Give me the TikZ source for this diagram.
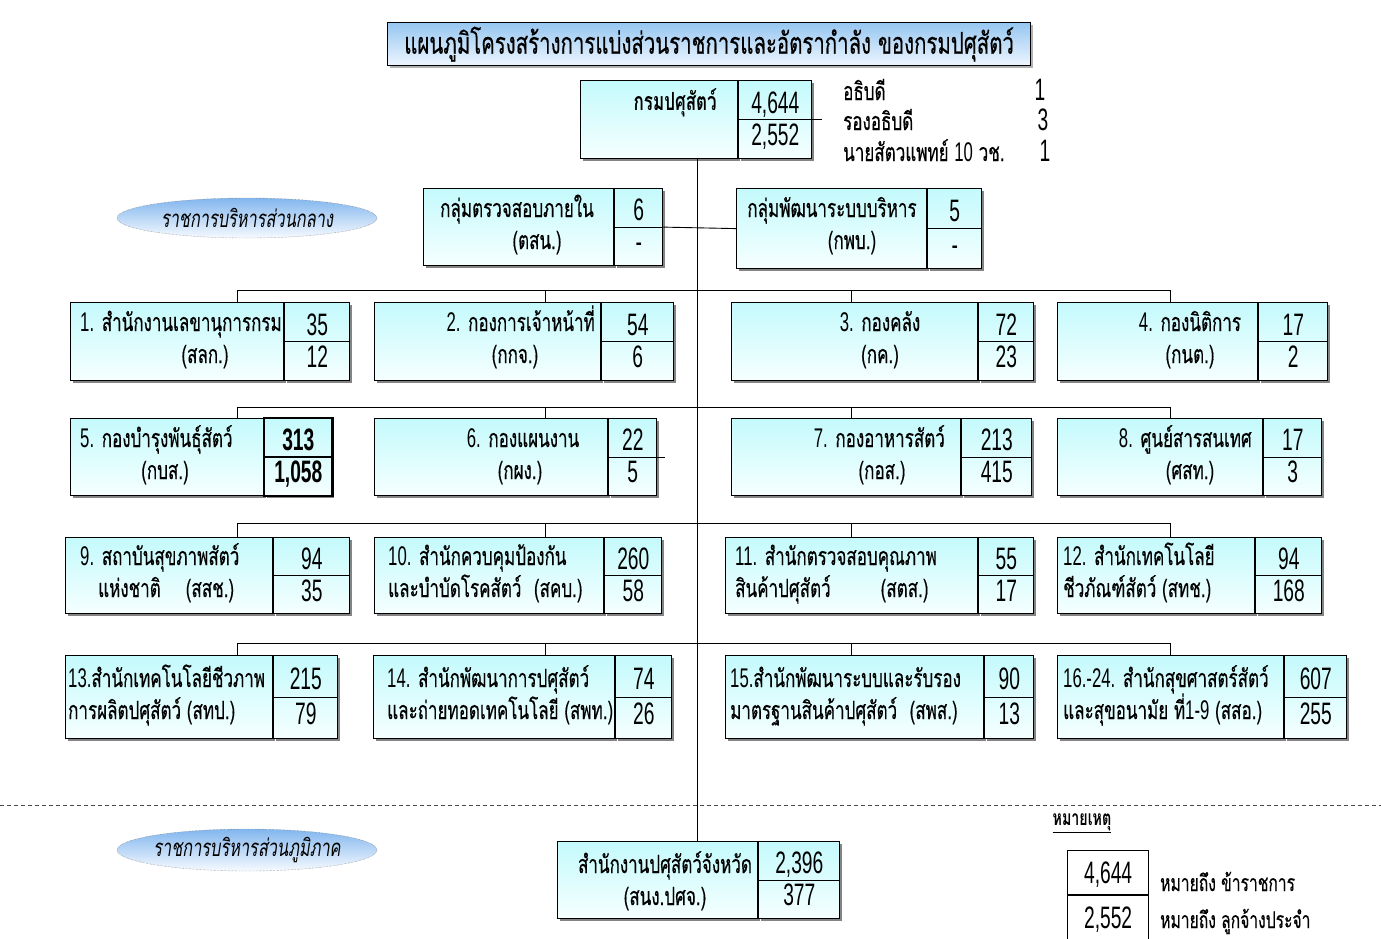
\documentclass[tikz,border=0pt]{standalone}
\usepackage{fontspec}
\newfontfamily\thaifont[Script=Thai,FakeStretch=0.68,UprightFeatures={FakeBold=0.4}]{Loma}
\newfontfamily\numfont[FakeStretch=0.62]{Liberation Sans}
\usetikzlibrary{positioning,calc,shadows,shapes.geometric}
\definecolor{boxtop}{RGB}{196,250,252}
\definecolor{boxbot}{RGB}{246,255,255}
\definecolor{titletop}{RGB}{150,198,240}
\definecolor{titlebot}{RGB}{238,246,255}
\definecolor{ovaltop}{RGB}{130,182,238}
\definecolor{ovalbot}{RGB}{246,250,255}
\newcommand{\digf}{\numfont\fontsize{27}{30}\selectfont}
\tikzset{
  unitbox/.style={draw=black, line width=1.2pt, top color=boxtop, bottom color=boxbot,
    anchor=north west, inner sep=0pt,
    drop shadow={shadow xshift=2pt, shadow yshift=-2pt, fill=black!60, opacity=0.8}},
  lbl/.style={font=\thaifont\fontsize{25}{28}\selectfont, inner sep=0pt},
  num/.style={font=\numfont\fontsize{31}{34}\selectfont, inner sep=0pt,
    text height=22pt, text depth=0pt},
  oval/.style={ellipse, draw=black!60, densely dotted, top color=ovaltop, bottom color=ovalbot,
    inner xsep=-14pt, inner ysep=0pt, font=\thaifont\itshape\fontsize{24}{27}\selectfont},
  link/.style={line width=0.9pt},
}
% box with its two number cells: name, x, y, width, number width, height, upper, lower
\newcommand{\orgbox}[8]{%
  \node[unitbox, minimum width=#4pt, minimum height=#6pt] (#1) at (#2,#3) {};
  \node[unitbox, minimum width=#5pt, minimum height=#6pt] (#1n) at (#1.north east) {};
  \draw[line width=1.2pt] (#1n.west) -- (#1n.east);
  \node[num] (#1u) at ($(#1n.north)!0.28!(#1n.south)$) {#7};
  \node[num] (#1l) at ($(#1n.north)!0.69!(#1n.south)$) {#8};
}
\begin{document}
\begin{tikzpicture}[x=1pt,y=-1pt]
  \fill[white] (0,0) rectangle (1381,938);
  \useasboundingbox (0,0) rectangle (1381,938);

  % title
  \node[draw=black, line width=1.2pt, top color=titletop, bottom color=titlebot,
    minimum width=643pt, minimum height=43pt, anchor=north west, inner sep=0pt,
    drop shadow={shadow xshift=2pt, shadow yshift=-2pt, fill=black!60},
    font=\thaifont\fontsize{30}{33}\selectfont] (title) at (387,22)
    {แผนภูมิโครงสร้างการแบ่งส่วนราชการและอัตรากำลัง ของกรมปศุสัตว์};

  % department
  \orgbox{dept}{580}{80}{157}{73}{78}{4,644}{2,552}
  \draw[line width=1.2pt] (deptn.east) -- ++(10,0);
  \node[lbl, anchor=base east, font=\thaifont\bfseries\fontsize{25}{28}\selectfont] (depta) at (717,110) {กรมปศุสัตว์};
  \node[lbl, anchor=base west] (boss1) at (843,100) {อธิบดี};
  \node[lbl, anchor=base west] (boss2) at (843,130) {รองอธิบดี};
  \node[lbl, anchor=base west] (boss3) at (843,161) {นายสัตวแพทย์ {\digf 10} วช.};
  \node[num, anchor=base] (boss1n) at (1040,100) {1};
  \node[num, anchor=base] (boss2n) at (1043,130) {3};
  \node[num, anchor=base] (boss3n) at (1045,161) {1};

  % central administration
  \node[oval, minimum width=260pt, minimum height=40pt] (central) at (247,218) {ราชการบริหารส่วนกลาง};
  \orgbox{aud}{423}{188}{190}{48}{77}{6}{-}
  \node[lbl, anchor=base] (auda) at (517,217) {กลุ่มตรวจสอบภายใน};
  \node[lbl, anchor=base] (audb) at (537,249) {(ตสน.)};
  \orgbox{adm}{736}{188}{190}{54}{80}{5}{-}
  \node[lbl, anchor=base] (adma) at (832,217) {กลุ่มพัฒนาระบบบริหาร};
  \node[lbl, anchor=base] (admb) at (852,249) {(กพบ.)};

  % row 1
  \orgbox{u1}{70}{302}{213}{65}{78}{35}{12}
  \node[lbl, anchor=base west] (u1a) at (80,331) {{\digf 1.} สำนักงานเลขานุการกรม};
  \node[lbl, anchor=base] (u1b) at (205,363) {(สลก.)};
  \orgbox{u2}{374}{302}{226}{72}{78}{54}{6}
  \node[lbl, anchor=base east] (u2a) at (595,331) {{\digf 2.} กองการเจ้าหน้าที่};
  \node[lbl, anchor=base] (u2b) at (515,363) {(กกจ.)};
  \orgbox{u3}{731}{302}{246}{55}{78}{72}{23}
  \node[lbl, anchor=base] (u3a) at (880,331) {{\digf 3.} กองคลัง};
  \node[lbl, anchor=base] (u3b) at (880,363) {(กค.)};
  \orgbox{u4}{1057}{302}{200}{69}{78}{17}{2}
  \node[lbl, anchor=base] (u4a) at (1190,331) {{\digf 4.} กองนิติการ};
  \node[lbl, anchor=base] (u4b) at (1190,363) {(กนต.)};

  % row 2
  \orgbox{u5}{70}{418}{193}{67}{77}{\bfseries 313}{\bfseries 1,058}
  \draw[line width=2.2pt] (u5n.north west) rectangle (u5n.south east);
  \draw[line width=2.2pt] (u5n.west) -- (u5n.east);
  \node[lbl, anchor=base west] (u5a) at (80,447) {{\digf 5.} กองบำรุงพันธุ์สัตว์};
  \node[lbl, anchor=base] (u5b) at (165,479) {(กบส.)};
  \orgbox{u6}{374}{418}{233}{48}{77}{22}{5}
  \draw[line width=1.2pt] (u6n.east) -- ++(8,0);
  \node[lbl, anchor=base] (u6a) at (523,447) {{\digf 6.} กองแผนงาน};
  \node[lbl, anchor=base] (u6b) at (520,479) {(กผง.)};
  \orgbox{u7}{731}{418}{229}{70}{77}{213}{415}
  \node[lbl, anchor=base east] (u7a) at (945,447) {{\digf 7.} กองอาหารสัตว์};
  \node[lbl, anchor=base] (u7b) at (882,479) {(กอส.)};
  \orgbox{u8}{1057}{418}{205}{58}{77}{17}{3}
  \node[lbl, anchor=base east] (u8a) at (1252,447) {{\digf 8.} ศูนย์สารสนเทศ};
  \node[lbl, anchor=base] (u8b) at (1190,479) {(ศสท.)};

  % row 3
  \orgbox{u9}{65}{537}{207}{76}{76}{94}{35}
  \node[lbl, anchor=base west] (u9a) at (80,565) {{\digf 9.} สถาบันสุขภาพสัตว์};
  \node[lbl, anchor=base west] (u9b) at (98,597) {แห่งชาติ\quad(สสช.)};
  \orgbox{u10}{374}{537}{229}{57}{76}{260}{58}
  \node[lbl, anchor=base west] (u10a) at (388,565) {{\digf 10.} สำนักควบคุมป้องกัน};
  \node[lbl, anchor=base west] (u10b) at (388,597) {และบำบัดโรคสัตว์\enspace(สคบ.)};
  \orgbox{u11}{725}{537}{252}{55}{76}{55}{17}
  \node[lbl, anchor=base west] (u11a) at (735,565) {{\digf 11.} สำนักตรวจสอบคุณภาพ};
  \node[lbl, anchor=base west] (u11b) at (735,597) {สินค้าปศุสัตว์\qquad(สตส.)};
  \orgbox{u12}{1057}{537}{197}{66}{76}{94}{168}
  \node[lbl, anchor=base west] (u12a) at (1063,565) {{\digf 12.} สำนักเทคโนโลยี};
  \node[lbl, anchor=base west] (u12b) at (1063,597) {ชีวภัณฑ์สัตว์ (สทช.)};

  % row 4
  \orgbox{u13}{65}{655}{207}{64}{83}{215}{79}
  \node[lbl, anchor=base west] (u13a) at (68,687) {{\digf 13.}สำนักเทคโนโลยีชีวภาพ};
  \node[lbl, anchor=base west] (u13b) at (68,719) {การผลิตปศุสัตว์ (สทป.)};
  \orgbox{u14}{373}{655}{241}{56}{83}{74}{26}
  \node[lbl, anchor=base west] (u14a) at (387,687) {{\digf 14.} สำนักพัฒนาการปศุสัตว์};
  \node[lbl, anchor=base west] (u14b) at (387,719) {และถ่ายทอดเทคโนโลยี (สพท.)};
  \orgbox{u15}{725}{655}{258}{49}{83}{90}{13}
  \node[lbl, anchor=base west] (u15a) at (730,687) {{\digf 15.}สำนักพัฒนาระบบและรับรอง};
  \node[lbl, anchor=base west] (u15b) at (730,719) {มาตรฐานสินค้าปศุสัตว์\enspace(สพส.)};
  \orgbox{u16}{1057}{655}{226}{62}{83}{607}{255}
  \node[lbl, anchor=base west] (u16a) at (1063,687) {{\digf 16.-24.} สำนักสุขศาสตร์สัตว์};
  \node[lbl, anchor=base west] (u16b) at (1063,719) {และสุขอนามัย ที่{\digf 1-9} (สสอ.)};

  % regional administration
  \draw[black!70, dash pattern=on 4pt off 3pt] (0,805) -- (1381,805);
  \node[oval, minimum width=260pt, minimum height=42pt] (regional) at (247,850) {ราชการบริหารส่วนภูมิภาค};
  \orgbox{prov}{557}{841}{200}{81}{77}{2,396}{377}
  \node[lbl, anchor=base] (prova) at (665,873) {สำนักงานปศุสัตว์จังหวัด};
  \node[lbl, anchor=base] (provb) at (665,905) {(สนง.ปศจ.)};

  % connectors
  \draw[link] (dept.south -| 697,0) -- (prov.north -| 697,0);
  \draw[link] (audn.east) -- (adm.west);
  \foreach \r/\y in {1/290,2/407,3/523,4/643}{
    \coordinate (bus\r w) at (237,\y);
    \coordinate (bus\r e) at (1170,\y);
    \draw[link] (bus\r w) -- (bus\r e);
  }
  \foreach \n/\x/\r in {u1/237/1,u2/545/1,u3/851/1,u4/1170/1,
                        u5/237/2,u6/545/2,u7/851/2,u8/1170/2,
                        u9/237/3,u10/545/3,u11/851/3,u12/1170/3,
                        u13/237/4,u14/545/4,u15/851/4,u16/1170/4}
    \draw[link] (\x,0 |- bus\r w) -- (\x,0 |- \n.north);

  % legend
  \node[lbl, font=\thaifont\bfseries\fontsize{21}{24}\selectfont] (note) at (1082,823) {\underline{หมายเหตุ}};
  \node[num, draw=black, line width=1.2pt, fill=white, minimum width=81pt, minimum height=44pt,
    anchor=north west] (leg1) at (1067,850) {4,644};
  \node[num, draw=black, line width=1.2pt, fill=white, minimum width=81pt, minimum height=44pt,
    below=0pt of leg1] (leg2) {2,552};
  \node[lbl, anchor=base west, font=\thaifont\fontsize{23}{26}\selectfont] (leg1t) at (1160,891) {หมายถึง ข้าราชการ};
  \node[lbl, anchor=base west, font=\thaifont\fontsize{23}{26}\selectfont] (leg2t) at (1160,928) {หมายถึง ลูกจ้างประจำ};
\end{tikzpicture}
\end{document}
